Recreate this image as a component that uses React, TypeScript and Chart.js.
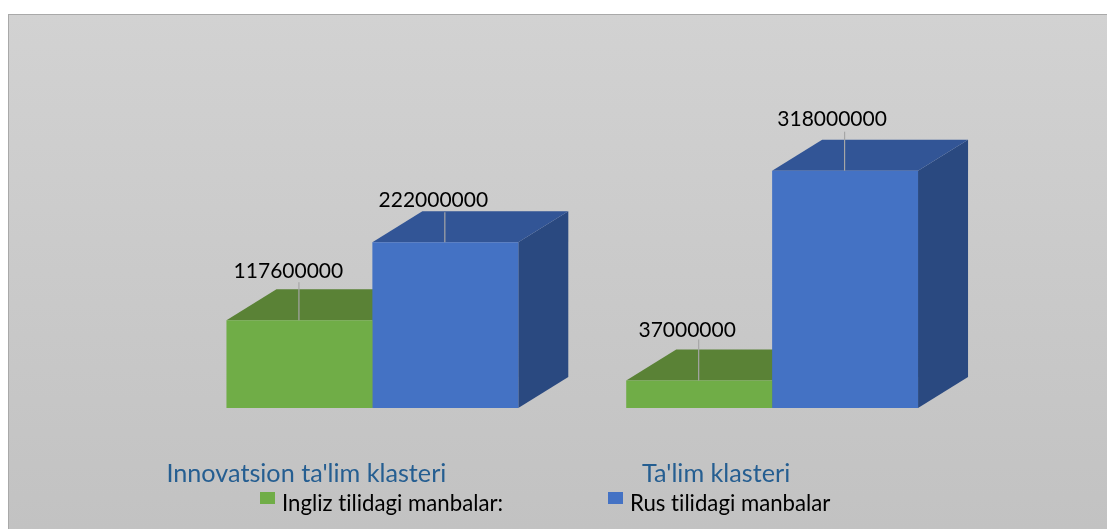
import React, { useEffect, useRef } from "react";
import { Chart, registerables } from "chart.js";

Chart.register(...registerables);

const categories = ["Innovatsion ta'lim klasteri", "Ta'lim klasteri"];
const englishLabel = "Ingliz tilidagi manbalar:";
const russianLabel = "Rus tilidagi manbalar";
const englishValues = [117600000, 37000000];
const russianValues = [222000000, 318000000];

const FONT = "Lato, 'Open Sans', sans-serif";
const DEPTH_X = 50;
const DEPTH_Y = 31;
const shades = [
  { front: "#70ad47", top: "#5a8236", side: "#4f7530" },
  { front: "#4472c4", top: "#325596", side: "#2a4980" },
];
const categoryOffsets = [-66, -56];
const legendPlacement = [
  { box: 260, text: 282 },
  { box: 608, text: 630 },
];
// [lead line length, label rise, label x shift] per dataset then category
const labelPlacement = [
  [[38, 49, -11], [41, 50, -12]],
  [[30, 42, -12], [39, 51, -13]],
];

const depthPlugin = {
  id: "depth",
  beforeDraw(chart: any) {
    const { ctx, width, height } = chart;
    ctx.save();
    ctx.fillStyle = "#ffffff";
    ctx.fillRect(0, 0, width, height);
    const g = ctx.createLinearGradient(0, 14, 0, height);
    g.addColorStop(0, "#d2d2d2");
    g.addColorStop(1, "#c2c2c2");
    ctx.fillStyle = g;
    ctx.fillRect(8, 14, width - 8, height - 14);
    ctx.fillStyle = "#a9a9a9";
    ctx.fillRect(8, 14, width - 8, 1);
    ctx.fillRect(8, 14, 1, height - 14);
    ctx.restore();
  },
  beforeDatasetsDraw(chart: any) {
    const { ctx } = chart;
    ctx.save();
    chart.data.datasets.forEach((_: any, d: number) => {
      chart.getDatasetMeta(d).data.forEach((bar: any) => {
        const left = bar.x - bar.width / 2;
        const right = bar.x + bar.width / 2;
        const top = bar.y;
        const base = bar.base;
        ctx.fillStyle = shades[d].side;
        ctx.beginPath();
        ctx.moveTo(right, top);
        ctx.lineTo(right + DEPTH_X, top - DEPTH_Y);
        ctx.lineTo(right + DEPTH_X, base - DEPTH_Y);
        ctx.lineTo(right, base);
        ctx.closePath();
        ctx.fill();
        ctx.fillStyle = shades[d].top;
        ctx.beginPath();
        ctx.moveTo(left, top);
        ctx.lineTo(left + DEPTH_X, top - DEPTH_Y);
        ctx.lineTo(right + DEPTH_X, top - DEPTH_Y);
        ctx.lineTo(right, top);
        ctx.closePath();
        ctx.fill();
      });
    });
    ctx.restore();
  },
  afterDatasetsDraw(chart: any) {
    const { ctx } = chart;
    ctx.save();
    ctx.textRendering = "optimizeSpeed";
    // data labels with lead lines
    chart.data.datasets.forEach((ds: any, d: number) => {
      chart.getDatasetMeta(d).data.forEach((bar: any, i: number) => {
        const [lead, rise, shift] = labelPlacement[d][i];
        ctx.strokeStyle = "#a6a6a6";
        ctx.lineWidth = 1.2;
        ctx.beginPath();
        ctx.moveTo(bar.x - 0.5, bar.y);
        ctx.lineTo(bar.x - 0.5, bar.y - lead);
        ctx.stroke();
        ctx.fillStyle = "#000000";
        ctx.font = `21px ${FONT}`;
        ctx.textAlign = "center";
        ctx.textBaseline = "middle";
        ctx.fillText(String(ds.data[i]), bar.x + shift, bar.y - rise);
      });
    });
    // category labels
    const xScale = chart.scales.x;
    ctx.fillStyle = "#255e91";
    ctx.font = `25.2px ${FONT}`;
    ctx.textAlign = "center";
    ctx.textBaseline = "middle";
    chart.data.labels.forEach((label: string, i: number) => {
      ctx.fillText(label, xScale.getPixelForValue(i) + categoryOffsets[i], 474);
    });
    // legend
    ctx.font = `22.2px ${FONT}`;
    ctx.textAlign = "left";
    chart.data.datasets.forEach((ds: any, d: number) => {
      ctx.fillStyle = ds.backgroundColor;
      ctx.fillRect(legendPlacement[d].box, 492, 15, 12);
      ctx.fillStyle = "#000000";
      ctx.fillText(ds.label, legendPlacement[d].text, 504);
    });
    ctx.restore();
  },
};

export default function App() {
  const ref = useRef<HTMLCanvasElement>(null);
  useEffect(() => {
    const chart = new Chart(ref.current as HTMLCanvasElement, {
      type: "bar",
      data: {
        labels: categories,
        datasets: [
          { label: englishLabel, data: englishValues, backgroundColor: shades[0].front, borderWidth: 0 },
          { label: russianLabel, data: russianValues, backgroundColor: shades[1].front, borderWidth: 0 },
        ],
      },
      options: {
        responsive: false,
        animation: false,
        devicePixelRatio: 1,
        layout: { padding: { left: 172.5, right: 135, top: 109.5, bottom: 121 } },
        datasets: { bar: { categoryPercentage: 0.73, barPercentage: 1 } },
        scales: {
          x: { display: false },
          y: { display: false, min: 0, max: 400000000 },
        },
        plugins: { legend: { display: false }, tooltip: { enabled: false }, title: { display: false } },
      },
      plugins: [depthPlugin],
    } as any);
    return () => chart.destroy();
  }, []);
  return (
    <canvas
      ref={ref}
      width={1107}
      height={529}
      style={{ position: "fixed", left: 0, top: 0, display: "block", width: 1107, height: 529, filter: "blur(0.5px)" }}
    />
  );
}
